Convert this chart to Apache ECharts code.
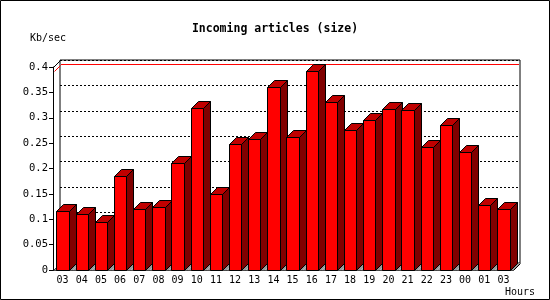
<!DOCTYPE html>
<html>
<head>
<meta charset="utf-8">
<script src="https://cdn.jsdelivr.net/npm/echarts@6/dist/echarts.min.js"></script>
<style>
    body { margin: 0; background: #fff; }
    #chart { width: 550px; height: 300px; }
</style>
</head>
<body>
<div id="chart"></div>
<script>
    // hours of the day (starts and ends at 03)
    var hours = ['03','04','05','06','07','08','09','10','11','12','13','14','15','16','17','18','19','20','21','22','23','00','01','03'];
    // Kb/sec per hour
    var kbPerSec = [0.116,0.110,0.094,0.185,0.120,0.124,0.210,0.319,0.149,0.248,0.258,0.360,0.263,0.392,0.331,0.276,0.295,0.317,0.315,0.242,0.285,0.232,0.129,0.120];
    var yMin = 0, yMax = 0.4, yStep = 0.05;

    var maxVal = Math.max.apply(null, kbPerSec);
    var DX = 7, DY = -7;   // depth of the 3d effect
    var font = 'DejaVu Sans Mono';

    var myChart = echarts.init(document.getElementById('chart'));

    // snap to pixel centre so 1px lines stay sharp
    function px(v) { return Math.round(v) + 0.5; }

    function renderBar(params, api) {
        var i = api.value(0);
        var band = api.size([1, 0])[0];
        var w = band * 0.65;
        var top = api.coord([i, api.value(1)]);
        var bot = api.coord([i, 0]);
        var L = px(top[0] - w / 2), R = px(top[0] + w / 2);
        var T = px(top[1]), B = px(bot[1]);
        var fl = px(bot[0] - band / 2), fr = px(bot[0] + band / 2);
        var children = [
            // floor piece
            { type: 'polygon', shape: { points: [[fl, B], [fl + DX, B + DY], [fr + DX, B + DY], [fr, B]] },
              style: { fill: '#999999', stroke: null } },
            // front
            { type: 'rect', shape: { x: L, y: T, width: R - L, height: B - T },
              style: { fill: '#ff0000', stroke: '#000', lineWidth: 1 } },
            // top
            { type: 'polygon', shape: { points: [[L, T], [L + DX, T + DY], [R + DX, T + DY], [R, T]] },
              style: { fill: '#c00000', stroke: '#000', lineWidth: 1 } },
            // side
            { type: 'polygon', shape: { points: [[R, T], [R + DX, T + DY], [R + DX, B + DY], [R, B]] },
              style: { fill: '#800000', stroke: '#000', lineWidth: 1 } }
        ];
        if (params.dataIndex === 0) {
            // left wall edges
            var yTop = px(api.coord([0, yMax])[1]);
            var yRed = px(api.coord([0, maxVal])[1]);
            children.unshift(
                { type: 'line', shape: { x1: fl, y1: yTop, x2: fl + DX, y2: yTop + DY }, style: { stroke: '#000', lineWidth: 1 } },
                { type: 'line', shape: { x1: fl, y1: B, x2: fl + DX, y2: B + DY }, style: { stroke: '#000', lineWidth: 1 } },
                { type: 'line', shape: { x1: fl + 1, y1: yRed, x2: fl + DX, y2: yRed + DY + 1 }, style: { stroke: '#ff0000', lineWidth: 1 } }
            );
        }
        if (params.dataIndex === hours.length - 1) {
            children.push(
                { type: 'line', shape: { x1: fr, y1: B, x2: fr + DX, y2: B + DY }, style: { stroke: '#000', lineWidth: 1 } }
            );
        }
        return { type: 'group', children: children };
    }

    // red line at the maximum, on the back wall
    function renderMax(params, api) {
        var band = api.size([1, 0])[0];
        var y = px(api.coord([0, api.value(1)])[1]);
        var x1 = api.coord([0, 0])[0] - band / 2 + 1;
        var x2 = api.coord([hours.length - 1, 0])[0] + band / 2 - 1;
        return { type: 'line', shape: { x1: x1, y1: y, x2: x2, y2: y }, style: { stroke: '#ff0000', lineWidth: 1 } };
    }

    var option = {
        animation: false,
        backgroundColor: '#fff',
        textStyle: { fontFamily: font },
        title: {
            text: 'Incoming articles (size)',
            left: 'center',
            top: 18,
            textStyle: { fontFamily: font, fontSize: 11.5, fontWeight: 'bold', color: '#000' }
        },
        graphic: [
            { type: 'rect', shape: { x: 0.5, y: 0.5, width: 549, height: 299 }, style: { fill: null, stroke: '#000', lineWidth: 1 }, z: 100 },
            { type: 'text', left: 30, top: 33, style: { text: 'Kb/sec', font: '10px ' + font, fill: '#000' } },
            { type: 'text', left: 505, top: 287, style: { text: 'Hours', font: '10px ' + font, fill: '#000' } }
        ],
        grid: [
            { left: 53, right: 37, top: 67, bottom: 30, outerBoundsMode: 'none' },
            { left: 60, right: 30, top: 60, bottom: 37, outerBoundsMode: 'none',
              show: true, borderColor: '#000', borderWidth: 1, backgroundColor: '#fff' }
        ],
        xAxis: [
            {
                type: 'category', gridIndex: 0, data: hours,
                axisLine: { lineStyle: { color: '#000', width: 1 } },
                axisTick: { length: 4, lineStyle: { color: '#000' } },
                axisLabel: { interval: 0, margin: 5, color: '#000', fontFamily: font, fontSize: 10 }
            },
            { type: 'category', gridIndex: 1, data: hours, show: false }
        ],
        yAxis: [
            {
                type: 'value', gridIndex: 0, min: yMin, max: yMax, interval: yStep,
                axisLine: { show: true, lineStyle: { color: '#000', width: 1 } },
                axisTick: { show: true, length: 4, lineStyle: { color: '#000' } },
                axisLabel: { margin: 5, color: '#000', fontFamily: font, fontSize: 10.5 },
                splitLine: { show: false }
            },
            {
                type: 'value', gridIndex: 1, min: yMin, max: yMax, interval: yStep,
                axisLine: { show: false }, axisTick: { show: false }, axisLabel: { show: false },
                splitLine: { show: true, lineStyle: { color: '#000', width: 1, type: [2, 2] } }
            }
        ],
        series: [
            {
                name: 'max',
                type: 'custom',
                xAxisIndex: 1, yAxisIndex: 1,
                renderItem: renderMax,
                data: [[0, maxVal]]
            },
            {
                name: 'Kb/sec',
                type: 'custom',
                xAxisIndex: 0, yAxisIndex: 0,
                renderItem: renderBar,
                data: kbPerSec.map(function (v, i) { return [i, v]; })
            }
        ]
    };
    myChart.setOption(option);
</script>
</body>
</html>
